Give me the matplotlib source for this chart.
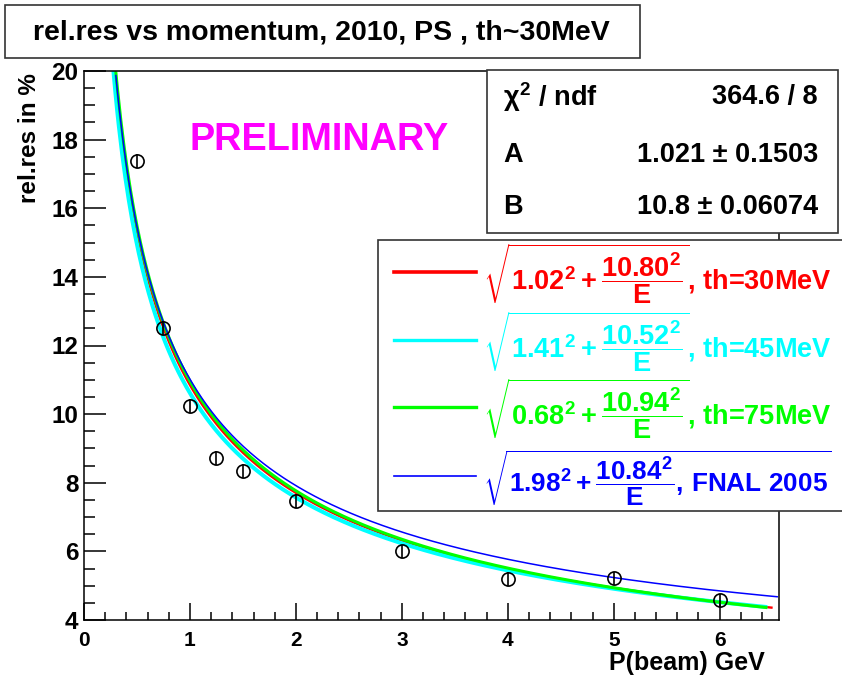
import numpy as np
import matplotlib
matplotlib.use("Agg")
import matplotlib.pyplot as plt
from matplotlib.patches import Rectangle
from matplotlib.ticker import MultipleLocator

plt.rcParams["font.family"] = ["Liberation Sans", "DejaVu Sans"]
plt.rcParams["font.weight"] = "bold"
plt.rcParams["mathtext.fontset"] = "custom"
plt.rcParams["mathtext.rm"] = "Liberation Sans:bold"
plt.rcParams["mathtext.it"] = "Liberation Sans:bold"
plt.rcParams["mathtext.bf"] = "Liberation Sans:bold"
plt.rcParams["mathtext.sf"] = "Liberation Sans:bold"

W, H = 842, 677

# measured relative resolution (%) vs beam momentum (GeV)
p_beam = [0.5, 0.75, 1.0, 1.25, 1.5, 2.0, 3.0, 4.0, 5.0, 6.0]
rel_res = [17.37, 12.52, 10.24, 8.73, 8.34, 7.47, 6.00, 5.20, 5.21, 4.57]
rel_err = [0.2, 0.2, 0.2, 0.2, 0.2, 0.2, 0.2, 0.2, 0.2, 0.2]

# fit curves sqrt(A^2 + B^2/E)
fit_a = [1.02, 1.41, 0.68, 1.98]
fit_b = [10.80, 10.52, 10.94, 10.84]
fit_a_txt = ["1.02", "1.41", "0.68", "1.98"]
fit_b_txt = ["10.80", "10.52", "10.94", "10.84"]
fit_tags = ["th=30MeV", "th=45MeV", "th=75MeV", "FNAL 2005"]

# stats box
stat_names = [r"$\chi^2$ / ndf", "A", "B"]
stat_vals = ["364.6 / 8", "1.021 \u00b1 0.1503", "10.8 \u00b1 0.06074"]

colors = ["#ff0000", "#00ffff", "#00ff00", "#0000ff"]
widths = [1.7, 2.9, 2.2, 1.1]
ranges = [(0.25, 6.5), (0.22, 6.45), (0.3, 6.45), (0.3, 6.55)]


def fx(x):
    return x / W


def fy(y):
    return 1 - y / H


fig = plt.figure(figsize=(W / 100, H / 100), dpi=100)
ax = fig.add_axes([fx(84), fy(620), (779 - 84) / W, (620 - 71) / H])

for a, b, c, lw, (lo, hi) in zip(fit_a, fit_b, colors, widths, ranges):
    e = np.linspace(lo, hi, 400)
    ax.plot(e, np.sqrt(a ** 2 + b ** 2 / e), color=c, lw=lw, solid_capstyle="butt")

ax.errorbar(p_beam, rel_res, yerr=rel_err, fmt="o", mfc="none", mec="black",
            ecolor="black", ms=9.5, mew=1.2, elinewidth=1.2, capsize=0, zorder=5)

ax.set_xlim(0, 6.56)
ax.set_ylim(4, 20)
ax.xaxis.set_major_locator(MultipleLocator(1))
ax.xaxis.set_minor_locator(MultipleLocator(0.2))
ax.yaxis.set_major_locator(MultipleLocator(2))
ax.yaxis.set_minor_locator(MultipleLocator(0.5))
ax.tick_params(axis="y", which="major", direction="in", length=16, width=1.1,
               labelsize=17.5, pad=4)
ax.tick_params(axis="y", which="minor", direction="in", length=8, width=1.1)
ax.tick_params(axis="x", which="major", direction="in", length=12, width=1.1,
               labelsize=15, pad=8)
ax.tick_params(axis="x", which="minor", direction="in", length=6, width=1.1)
for lab in ax.get_xticklabels() + ax.get_yticklabels():
    lab.set_fontweight("bold")
for s in ax.spines.values():
    s.set_linewidth(1.1)

fig.text(fx(765), fy(670), "P(beam) GeV", ha="right", va="baseline", fontsize=18)
fig.text(fx(30), fy(73), "rel.res in %", ha="center", va="top", rotation=90,
         fontsize=17.5)

fig.text(fx(319), fy(140), "PRELIMINARY", color="#ff00ff", ha="center",
         va="center", fontsize=27.3)

# title box
fig.add_artist(Rectangle((fx(5), fy(58)), (640 - 5) / W, (58 - 5) / H,
                         transform=fig.transFigure, fc="white", ec="#333333", lw=1.2))
fig.text(fx(321), fy(32), "rel.res vs momentum, 2010, PS , th~30MeV",
         ha="center", va="center", fontsize=20.5)

# stats box
fig.add_artist(Rectangle((fx(487), fy(233)), (838 - 487) / W, (233 - 70) / H,
                         transform=fig.transFigure, fc="white", ec="#333333",
                         lw=1.2, zorder=3))
for i, (n, v) in enumerate(zip(stat_names, stat_vals)):
    y = [97, 155, 207][i]
    fig.text(fx(503), fy(y), n, ha="left", va="center", fontsize=19.5, zorder=4)
    fig.text(fx(818), fy(y), v, ha="right", va="center", fontsize=19.5, zorder=4)

# legend box
fig.add_artist(Rectangle((fx(378), fy(511)), (850 - 378) / W, (511 - 240) / H,
                         transform=fig.transFigure, fc="white", ec="#333333",
                         lw=1.2, zorder=3))
for i in range(4):
    y = [272, 340, 407, 476][i]
    fig.add_artist(plt.Line2D([fx(394), fx(476)], [fy(y), fy(y)],
                              transform=fig.transFigure, color=colors[i],
                              lw=[2.6, 2.4, 2.4, 1.2][i], zorder=4))
    if i < 3:
        s = (r"$\sqrt{%s^2 + \dfrac{%s^2}{E}}$, %s"
             % (fit_a_txt[i], fit_b_txt[i], fit_tags[i]))
        fs = 19.5
    else:
        s = (r"$\sqrt{%s^2 + \dfrac{%s^2}{E}\mathrm{,\,FNAL\ 2005}}$"
             % (fit_a_txt[i], fit_b_txt[i]))
        fs = 18.8
    fig.text(fx(483), fy(y + 2), s, color=colors[i], ha="left", va="center",
             fontsize=fs, zorder=4)

fig.savefig("out.png", dpi=100)
